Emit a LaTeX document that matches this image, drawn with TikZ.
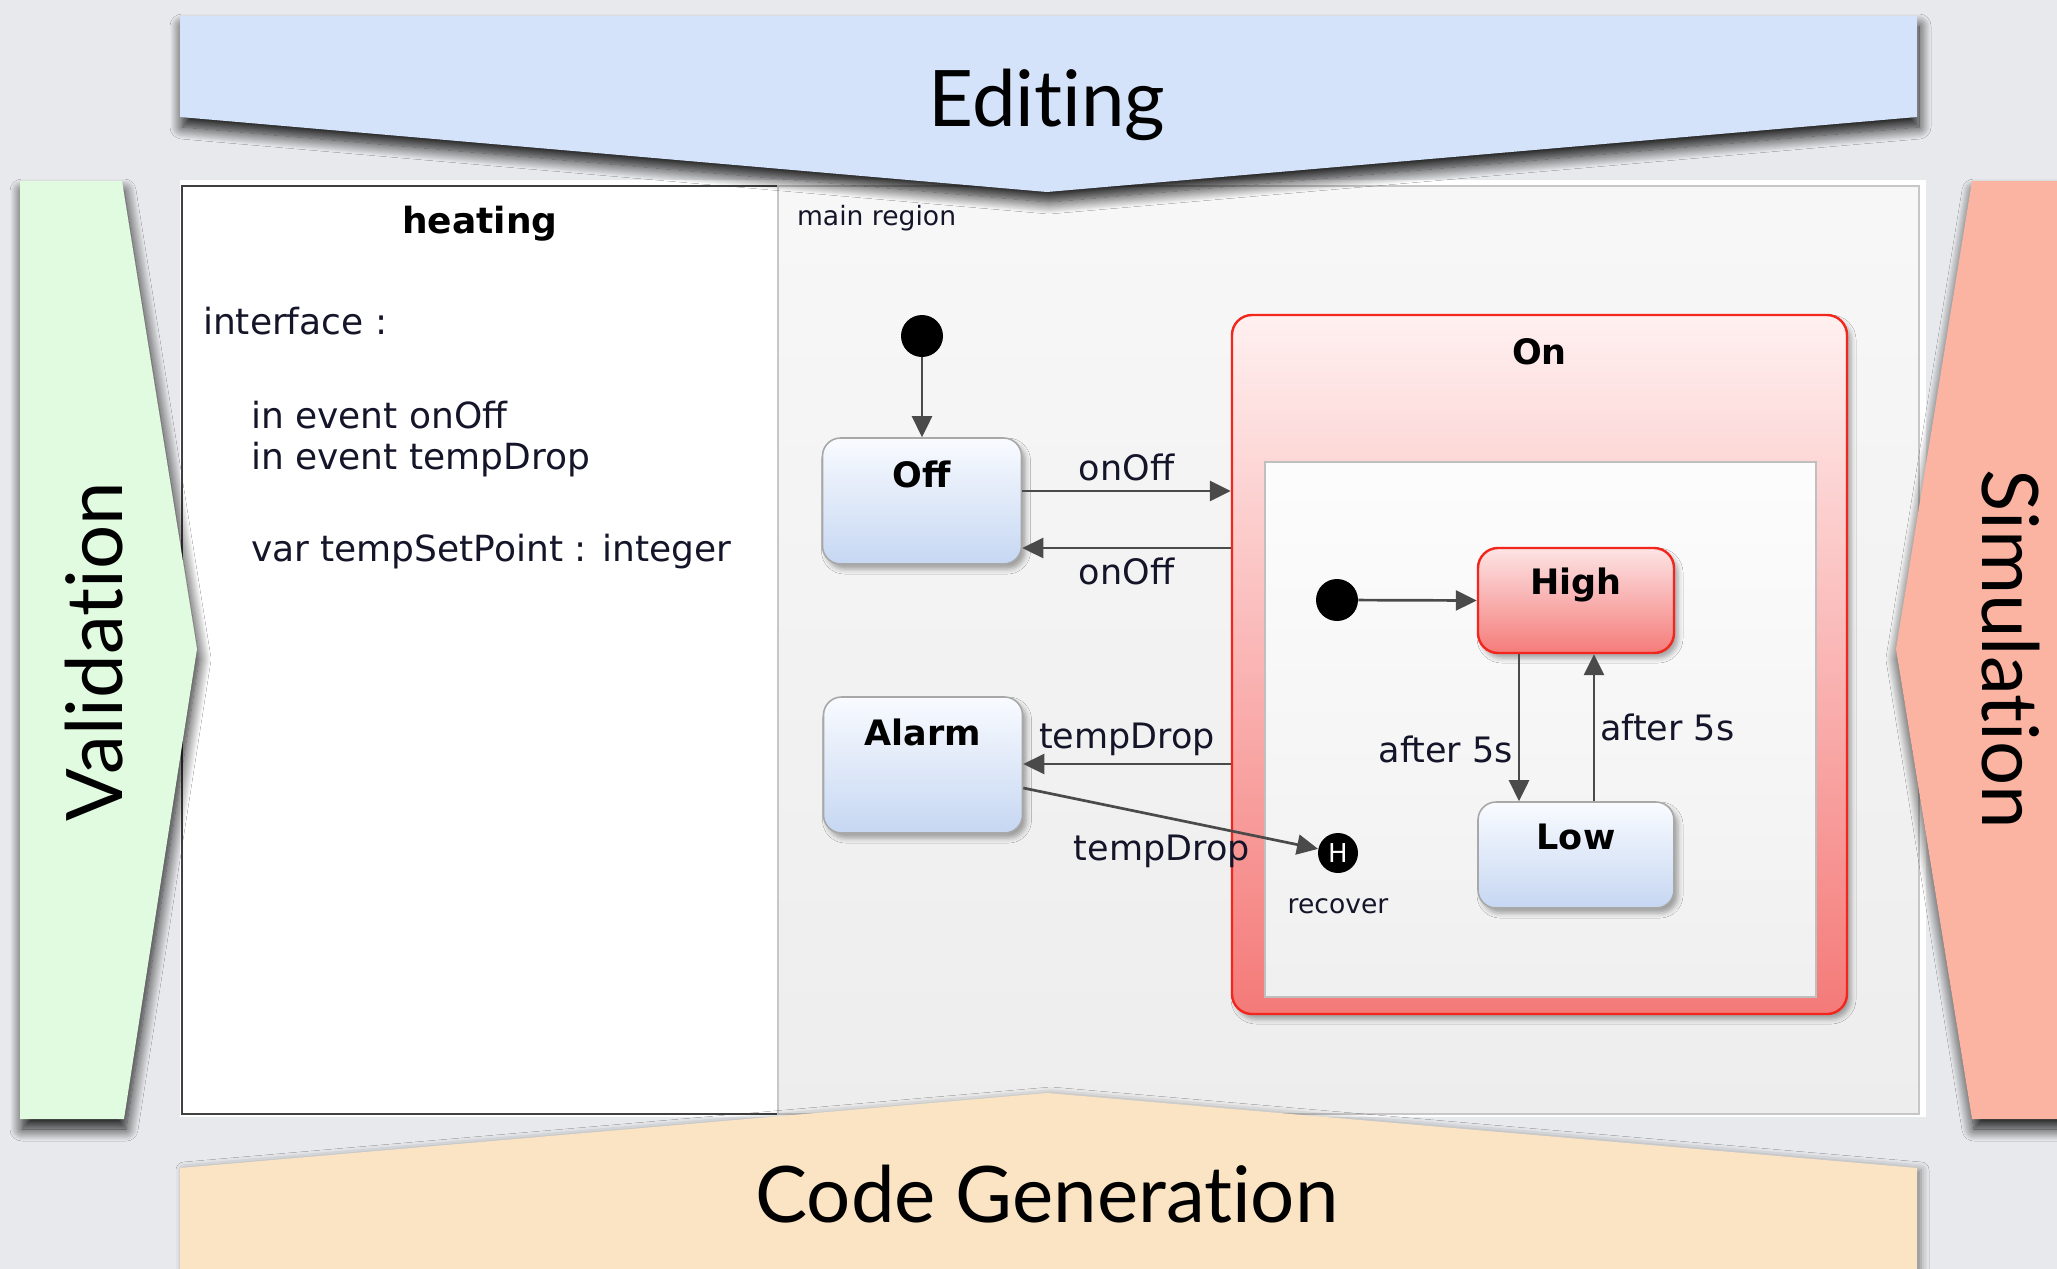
\documentclass[tikz,border=0pt]{standalone}
\usepackage{fontspec}
\setmainfont{DejaVu Sans}
\newfontfamily\bannerfont[RawFeature={-liga;-clig;-dlig}]{Lato}
\usetikzlibrary{arrows.meta,shadows,shadows.blur}
\definecolor{bgC}{HTML}{E8E9EC}
\definecolor{editC}{HTML}{D4E2FA}
\definecolor{valC}{HTML}{E1FBE0}
\definecolor{simC}{HTML}{FBB4A2}
\definecolor{codeC}{HTML}{FAE4C4}
\definecolor{blueTop}{HTML}{F9FBFF}
\definecolor{blueBot}{HTML}{C6D7F2}
\definecolor{boxB}{HTML}{A8A8A8}
\definecolor{redB}{HTML}{F2261C}
\definecolor{onTop}{HTML}{FFF0F0}
\definecolor{onBot}{HTML}{F47A78}
\definecolor{hiTop}{HTML}{FDE4E4}
\definecolor{hiBot}{HTML}{F47C7A}
\definecolor{arrC}{HTML}{4A4A4A}
\definecolor{txtC}{HTML}{15152A}
\tikzset{
  stbox/.style={draw=boxB, line width=0.8pt, rounded corners=9pt, inner sep=0pt,
    top color=blueTop, bottom color=blueBot,
    blur shadow={shadow xshift=2pt, shadow yshift=-2.5pt, shadow opacity=35, shadow blur radius=2.5pt}},
  redbox/.style={draw=redB, line width=1.2pt, rounded corners=10pt, inner sep=0pt,
    top color=hiTop, bottom color=hiBot,
    blur shadow={shadow xshift=2pt, shadow yshift=-2.5pt, shadow opacity=35, shadow blur radius=2.5pt}},
  boxlbl/.style={anchor=center, font=\bfseries\fontsize{17.5}{20}\selectfont, text=black},
  initst/.style={circle, fill=black, minimum size=21pt, inner sep=0pt},
  tr/.style={draw=arrC, line width=1.35pt, -{Triangle[length=10.5pt,width=10pt]}},
  lbl/.style={font=\fontsize{17.5}{20}\selectfont, text=txtC},
  small/.style={font=\fontsize{13.3}{15}\selectfont, text=txtC},
  banner/.style={font=\bannerfont\fontsize{39}{44}\selectfont, text=black},
  bshadow/.style={blur shadow={shadow xshift=1pt, shadow yshift=-5pt, shadow opacity=90, shadow blur radius=6pt, shadow blur steps=14}}
}
\begin{document}
\begin{tikzpicture}[x=0.5pt,y=-0.5pt]
\useasboundingbox (0,0) rectangle (2057,1269);
\clip (0,0) rectangle (2057,1269);
\fill[bgC] (0,0) rectangle (2057,1269);

% main panel
\fill[white] (180,180) rectangle (1926,1117);
\fill[white, draw=black!75, line width=1pt] (182,186) rectangle (778,1114);
\path[draw=black!22, line width=0.8pt, top color=black!3, bottom color=black!7] (778,186) rectangle (1919,1114);

% heating interface text
\node[font=\bfseries\fontsize{18}{21}\selectfont, text=black] (heat) at (480,224) {heating};
\node[lbl, font=\fontsize{18}{21}\selectfont, anchor=west] (intf) at (196,321) {interface :};
\node[lbl, font=\fontsize{18}{21}\selectfont, anchor=west] (ev1) at (244,415) {in event onOff};
\node[lbl, font=\fontsize{18}{21}\selectfont, anchor=west] (ev2) at (244,460) {in event tempDrop};
\node[lbl, font=\fontsize{18}{21}\selectfont, anchor=west] (var) at (244,552) {var tempSetPoint : integer};

\node[small, anchor=west] (mreg) at (790,218) {main region};

% On composite state
\node[redbox, minimum width=307.5pt, minimum height=349.5pt, top color=onTop, bottom color=onBot,
      label={[boxlbl, yshift=-19pt]north:On}] (On) at (1539.5,664.5) {};
\node[draw=black!25, line width=0.8pt, top color=black!1, bottom color=black!6, inner sep=0pt,
      minimum width=275.5pt, minimum height=267.5pt] (inner) at (1540.5,729.5) {};

% states
\node[initst] (i1) at (922,336) {};
\node[stbox, minimum width=99.5pt, minimum height=63pt,
      label={[boxlbl, yshift=-18.5pt]north:Off}] (Off) at (922,501) {};
\node[stbox, minimum width=99.5pt, minimum height=68pt,
      label={[boxlbl, yshift=-18pt]north:Alarm}] (Alarm) at (923,765) {};
\node[initst] (i2) at (1337,600) {};
\node[redbox, minimum width=98pt, minimum height=52.5pt,
      label={[boxlbl, yshift=-19pt]north:High}] (High) at (1576,600.5) {};
\node[stbox, minimum width=98pt, minimum height=53pt,
      label={[boxlbl, yshift=-18pt]north:Low}] (Low) at (1576,855) {};
\node[circle, fill=black, minimum size=20pt, inner sep=0pt, text=white,
      font=\fontsize{13}{13}\selectfont,
      label={[small, label distance=9pt]below:recover}] (H) at (1338,853) {H};

% transitions
\draw[tr] (i1) -- (Off.north);
\draw[tr] (Off.east |- 0,491) -- (On.west |- 0,491) node[lbl, midway, above, yshift=1pt] {onOff};
\draw[tr] (On.west |- 0,548) -- (Off.east |- 0,548) node[lbl, midway, below, yshift=-1pt] {onOff};
\draw[tr] (On.west |- 0,764) -- (Alarm.east |- 0,764) node[lbl, midway, above] {tempDrop};
\draw[tr] (Alarm.east |- 0,788) -- (H) node[lbl, pos=0.47, below, yshift=-5pt] {tempDrop};
\draw[tr] (i2) -- (High.west);
\draw[tr] (High.south -| 1519,0) -- (Low.north -| 1519,0) node[lbl, pos=0.65, left, xshift=1pt] {after 5s};
\draw[tr] (Low.north -| 1594,0) -- (High.south -| 1594,0) node[lbl, pos=0.5, right, xshift=-1pt] {after 5s};

% banners
\path[fill=editC, bshadow] (180,16) -- (1917,16) -- (1917,117) -- (1047,192) -- (180,117) -- cycle;
\node[banner] (edit) at (1047,105) {Editing};
\path[fill=codeC, blur shadow={shadow xshift=2pt, shadow yshift=-1pt, shadow opacity=45, shadow blur radius=4pt}] (1047,1093) -- (1917,1168) -- (1917,1290) -- (180,1290) -- (180,1168) -- cycle;
\node[banner] (code) at (1047,1194) {Code Generation};
\path[fill=valC, bshadow] (20,181) -- (122,181) -- (197,649) -- (124,1119) -- (20,1119) -- cycle;
\node[banner, rotate=90] (valid) at (94,652) {Validation};
\path[fill=simC, bshadow] (1972,181) -- (2080,181) -- (2080,1119) -- (1972,1119) -- (1896,649) -- cycle;
\node[banner, rotate=-90] (sim) at (2011,649) {Simulation};
\end{tikzpicture}
\end{document}
